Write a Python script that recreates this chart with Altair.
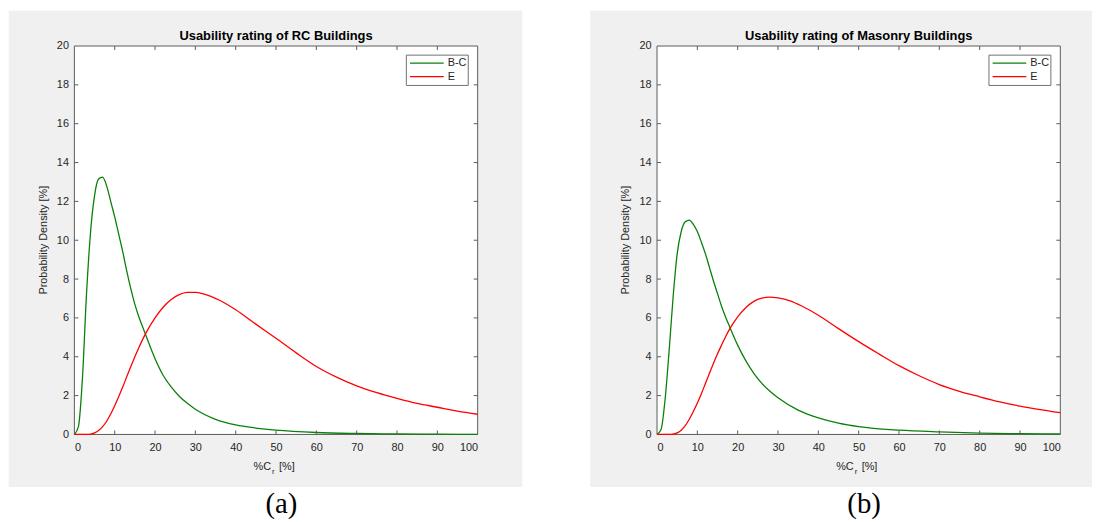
import altair as alt
import pandas as pd

panel_titles = ["Usability rating of RC Buildings", "Usability rating of Masonry Buildings"]
panel_tags = ["(a)", "(b)"]
series_names = ["B-C", "E"]
series_colors = ["#0a800a", "#ff0000"]
x_ticks = [0, 10, 20, 30, 40, 50, 60, 70, 80, 90, 100]
y_ticks = [0, 2, 4, 6, 8, 10, 12, 14, 16, 18, 20]
y_label = "Probability Density [%]"
x_label_main = "%C"
x_label_sub = "r"
x_label_unit = "[%]"

# Panel (a): RC buildings
rc_bc_x = [0, 1, 2, 3, 4, 5, 6, 7, 8, 9, 10, 11, 12, 13, 14, 15, 16, 17, 18, 20, 22, 24, 26, 28, 30,
           35, 40, 45, 50, 60, 70, 80, 90, 100]
rc_bc_y = [0, 0.4, 2.9, 7.2, 10.4, 12.3, 13.15, 13.25, 12.8, 12.0, 11.2, 10.3, 9.4, 8.4, 7.5, 6.7,
           6.05, 5.5, 4.95, 3.9, 3.05, 2.45, 1.97, 1.6, 1.3, 0.78, 0.49, 0.33, 0.22, 0.1, 0.05,
           0.025, 0.012, 0.006]
rc_e_x = [0, 3.7, 5, 6, 7, 8, 9, 10, 11, 12, 13, 14, 15, 16, 17, 18, 20, 22, 24, 26, 28, 30, 32,
          34, 36, 38, 40, 45, 50, 55, 60, 65, 70, 75, 80, 85, 90, 95, 100]
rc_e_y = [0, 0, 0.08, 0.2, 0.4, 0.68, 1.05, 1.48, 1.95, 2.45, 2.98, 3.5, 4.0, 4.48, 4.92, 5.32, 6.0,
          6.55, 6.95, 7.2, 7.31, 7.32, 7.24, 7.1, 6.91, 6.68, 6.42, 5.68, 4.95, 4.2, 3.5, 2.95, 2.5,
          2.15, 1.86, 1.6, 1.4, 1.2, 1.04]

# Panel (b): Masonry buildings
ms_bc_x = [0, 1, 2, 3, 4, 5, 6, 7, 8, 9, 10, 11, 12, 13, 14, 15, 16, 17, 18, 20, 22, 24, 26, 28, 30,
           35, 40, 45, 50, 60, 70, 80, 90, 100]
ms_bc_y = [0, 0.25, 1.8, 4.3, 7.1, 9.3, 10.45, 10.95, 11.04, 10.82, 10.45, 9.9, 9.3, 8.6, 7.9, 7.25,
           6.6, 6.05, 5.55, 4.6, 3.8, 3.15, 2.63, 2.22, 1.89, 1.25, 0.85, 0.58, 0.4, 0.22, 0.13, 0.07,
           0.04, 0.025]
ms_e_x = [0, 3.5, 5, 6, 7, 8, 9, 10, 11, 12, 13, 14, 15, 16, 17, 18, 20, 22, 24, 26, 28, 30, 33, 36,
          40, 45, 50, 55, 60, 65, 70, 75, 80, 85, 90, 95, 100]
ms_e_y = [0, 0, 0.08, 0.22, 0.45, 0.78, 1.18, 1.62, 2.1, 2.62, 3.15, 3.66, 4.15, 4.6, 5.03, 5.42,
          6.05, 6.52, 6.85, 7.02, 7.07, 7.03, 6.88, 6.6, 6.14, 5.45, 4.78, 4.15, 3.54, 3.02, 2.57,
          2.22, 1.94, 1.68, 1.46, 1.28, 1.12]

W, H = 407, 392
FONT = "Liberation Sans"
SERIF = "Liberation Serif"
GREY = "#f0f0f0"
AXC = "#262626"
BOX = "#5a5a5a"

xs = alt.Scale(domain=[0, 100], nice=False, zero=False)
ys = alt.Scale(domain=[0, 20], nice=False, zero=False)
x_axis = alt.Axis(values=x_ticks, title=None, domain=False, ticks=False, grid=False,
                  labelFont=FONT, labelFontSize=11, labelColor=AXC, labelPadding=7,
                  labelOverlap=False, format="d", zindex=1)
y_axis = alt.Axis(values=y_ticks, title=None, domain=False, ticks=False, grid=False,
                  labelFont=FONT, labelFontSize=11, labelColor=AXC, labelPadding=6,
                  labelOverlap=False, format="d", zindex=1)

one = pd.DataFrame({"k": [0]})


def panel(title, tag, curves, gl, gr):
    frames = []
    for name, (cx, cy) in zip(series_names, curves):
        frames.append(pd.DataFrame({"x": cx, "y": cy, "series": name}))
    df = pd.concat(frames, ignore_index=True)
    b = alt.Chart(one)
    layers = []
    layers.append(b.mark_rect(color=GREY).encode(
        x=alt.value(gl), x2=alt.value(gr), y=alt.value(-35.5), y2=alt.value(H + 53)))
    layers.append(b.mark_rect(fill="white", stroke=BOX, strokeWidth=1).encode(
        x=alt.value(0), x2=alt.value(W), y=alt.value(0), y2=alt.value(H)))
    layers.append(alt.Chart(df).mark_line(strokeWidth=1.3, interpolate="monotone").encode(
        x=alt.X("x:Q", scale=xs, axis=x_axis),
        y=alt.Y("y:Q", scale=ys, axis=y_axis),
        color=alt.Color("series:N", scale=alt.Scale(domain=series_names, range=series_colors),
                        legend=None),
    ))
    xt = pd.DataFrame({"x": x_ticks[1:-1]})
    yt = pd.DataFrame({"y": y_ticks[1:-1]})
    X = alt.X("x:Q", scale=xs, axis=x_axis)
    Y = alt.Y("y:Q", scale=ys, axis=y_axis)
    layers.append(alt.Chart(xt).mark_rule(color=BOX, strokeWidth=1).encode(
        x=X, y=alt.value(H - 4), y2=alt.value(H)))
    layers.append(alt.Chart(xt).mark_rule(color=BOX, strokeWidth=1).encode(
        x=X, y=alt.value(0), y2=alt.value(4)))
    layers.append(alt.Chart(yt).mark_rule(color=BOX, strokeWidth=1).encode(
        y=Y, x=alt.value(0), x2=alt.value(4)))
    layers.append(alt.Chart(yt).mark_rule(color=BOX, strokeWidth=1).encode(
        y=Y, x=alt.value(W - 4), x2=alt.value(W)))
    # legend (MATLAB style box inside the axes)
    layers.append(b.mark_rect(fill="white", stroke="#707070", strokeWidth=1).encode(
        x=alt.value(335), x2=alt.value(397.5), y=alt.value(9.2), y2=alt.value(39.8)))
    for i, (name, col) in enumerate(zip(series_names, series_colors)):
        yy = 17.2 + 13.6 * i
        layers.append(b.mark_rule(color=col, strokeWidth=1.3).encode(
            x=alt.value(338.7), x2=alt.value(372.7), y=alt.value(yy)))
        layers.append(b.mark_text(text=name, align="left", baseline="middle", font=FONT,
                                  fontSize=11, color=AXC).encode(
            x=alt.value(376.7), y=alt.value(yy)))
    # title
    layers.append(b.mark_text(text=title, align="center", baseline="middle", font=FONT,
                              fontSize=13, fontWeight="bold", color="#000000").encode(
        x=alt.value(W / 2), y=alt.value(-10.5)))
    # y label
    layers.append(b.mark_text(text=y_label, align="center", baseline="middle", font=FONT,
                              fontSize=11, angle=270, color=AXC).encode(
        x=alt.value(-31), y=alt.value(H / 2)))
    # x label with subscript
    layers.append(b.mark_text(text=x_label_main, align="right", baseline="middle", font=FONT,
                              fontSize=11, color=AXC).encode(
        x=alt.value(198.5), y=alt.value(H + 32.5)))
    layers.append(b.mark_text(text=x_label_sub, align="left", baseline="middle", font=FONT,
                              fontSize=8, color=AXC).encode(
        x=alt.value(199.5), y=alt.value(H + 37.5)))
    layers.append(b.mark_text(text=x_label_unit, align="left", baseline="middle", font=FONT,
                              fontSize=11, color=AXC).encode(
        x=alt.value(206.5), y=alt.value(H + 32.5)))
    # panel tag
    layers.append(b.mark_text(text=tag, align="center", baseline="alphabetic", font=SERIF,
                              fontSize=29, color="#000000").encode(
        x=alt.value(209), y=alt.value(471)))
    return alt.layer(*layers).properties(width=W, height=H)


pa = panel(panel_titles[0], panel_tags[0],
           [(rc_bc_x, rc_bc_y), (rc_e_x, rc_e_y)], -66.3, W + 45)
pb = panel(panel_titles[1], panel_tags[1],
           [(ms_bc_x, ms_bc_y), (ms_e_x, ms_e_y)], -67.5, 439)

chart = alt.hconcat(pa, pb, spacing=67).properties(
    padding=0, background="white"
).configure_view(stroke="transparent")

chart.save("out.html", embed_options={"renderer": "svg", "actions": False})
